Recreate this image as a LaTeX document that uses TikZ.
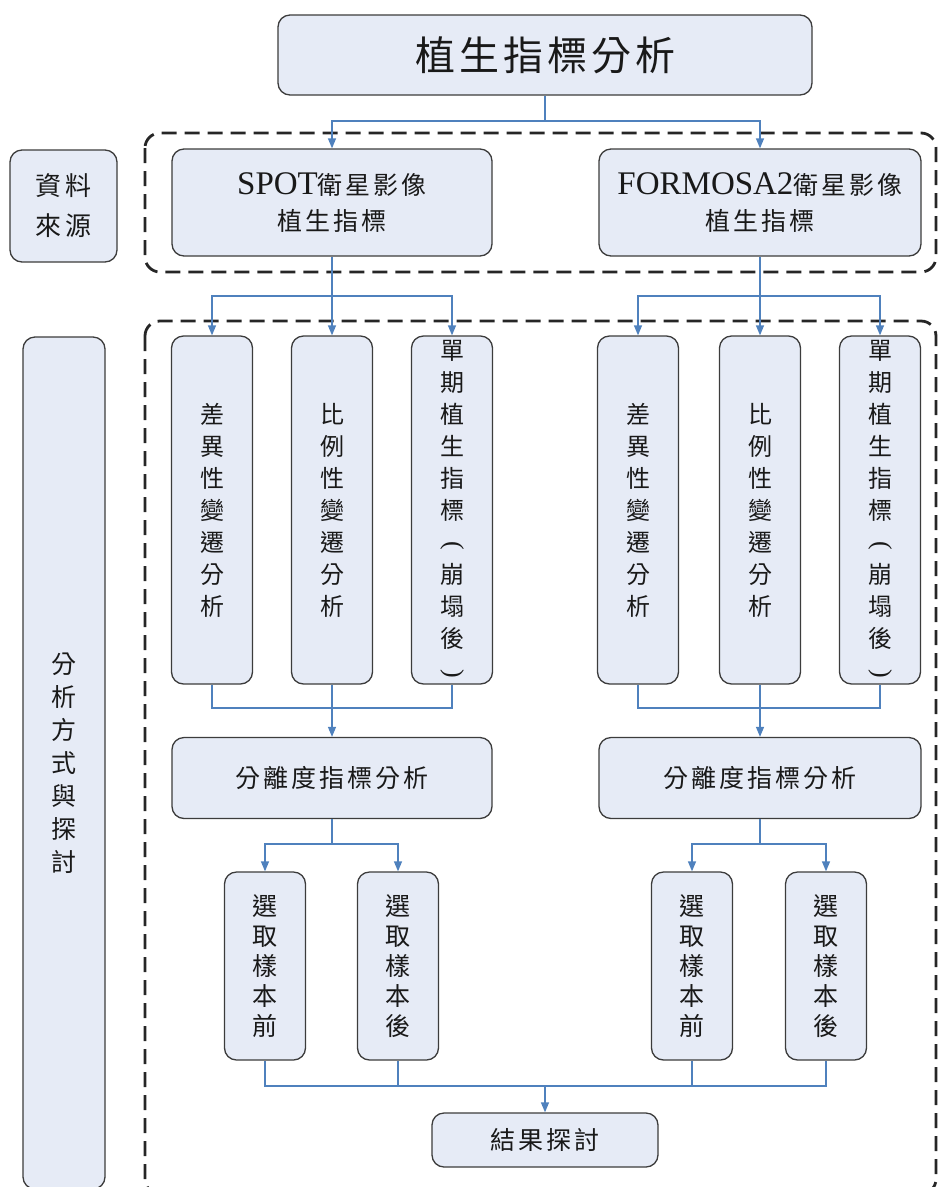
\documentclass[tikz,border=0pt]{standalone}
\usepackage{graphicx}
\usepackage{fontspec}
\setmainfont{Liberation Serif}
\newfontfamily\cjk{Noto Sans CJK TC}
\newfontfamily\cjks{Noto Sans CJK TC}[LetterSpace=12]
\usetikzlibrary{arrows.meta}
\definecolor{boxfill}{RGB}{230,235,246}
\definecolor{boxline}{RGB}{60,60,60}
\definecolor{conncol}{RGB}{79,129,189}
\definecolor{txt}{RGB}{25,25,25}
\newcommand\vlparen{\rotatebox[origin=c]{-90}{\rmfamily\fontsize{26}{26}\selectfont (}}
\newcommand\vrparen{\rotatebox[origin=c]{-90}{\rmfamily\fontsize{26}{26}\selectfont )}}
\tikzset{
  box/.style={draw=boxline, fill=boxfill, rounded corners=12pt, line width=1.3pt, inner sep=0pt, text=txt, align=center},
  vtext/.style={font=\cjk\fontsize{24}{32}\selectfont},
  conn/.style={draw=conncol, line width=1.3pt},
  arr/.style={conn, -{Triangle[length=10pt,width=8pt]}},
  dashbox/.style={draw=black!85, line width=2.8pt, dash pattern=on 15pt off 8pt, rounded corners=15pt}
}
\begin{document}
\begin{tikzpicture}[x=1pt,y=-1pt]
\useasboundingbox (0,0) rectangle (938,1187);
\clip (0,0) rectangle (938,1187);

% containers
\draw[dashbox] (145,133) rectangle (936,272);
\draw[dashbox] (145,321) rectangle (936,1194);

% junction levels
\coordinate (y1) at (0,121);
\coordinate (y2) at (0,296);
\coordinate (y3) at (0,708);
\coordinate (y4) at (0,844);
\coordinate (y5) at (0,1086);

% nodes
\node[box, minimum width=534pt, minimum height=80pt, font=\cjk\fontsize{40}{44}\selectfont\addfontfeature{LetterSpace=10}] (top) at (545,55) {植生指標分析};

\node[box, minimum width=107pt, minimum height=112pt, font=\cjks\fontsize{26}{40}\selectfont] (src) at (63.5,206) {資料\\來源};
\node[box, minimum width=82pt, minimum height=852pt, font=\cjk\fontsize{25}{33}\selectfont] (ana) at (64,763) {分\\析\\方\\式\\與\\探\\討};

\node[box, minimum width=320pt, minimum height=107pt] (spot) at (332,202.5)
  {{\fontsize{33}{36}\selectfont SPOT}{\cjks\fontsize{25}{36}\selectfont 衛星影像}\\[12pt]{\cjks\fontsize{25}{36}\selectfont 植生指標}};
\node[box, minimum width=322pt, minimum height=107pt] (formosa) at (760,202.5)
  {{\fontsize{33}{36}\selectfont FORMOSA2}{\cjks\fontsize{25}{36}\selectfont 衛星影像}\\[12pt]{\cjks\fontsize{25}{36}\selectfont 植生指標}};

\node[box, vtext, minimum width=81pt, minimum height=348pt] (a1) at (212,510) {差\\異\\性\\變\\遷\\分\\析};
\node[box, vtext, minimum width=81pt, minimum height=348pt] (a2) at (332,510) {比\\例\\性\\變\\遷\\分\\析};
\node[box, vtext, minimum width=81pt, minimum height=348pt] (a3) at (452,510) {單\\期\\植\\生\\指\\標\\\vlparen\\崩\\塌\\後\\\vrparen};
\node[box, vtext, minimum width=81pt, minimum height=348pt] (f1) at (638,510) {差\\異\\性\\變\\遷\\分\\析};
\node[box, vtext, minimum width=81pt, minimum height=348pt] (f2) at (760,510) {比\\例\\性\\變\\遷\\分\\析};
\node[box, vtext, minimum width=81pt, minimum height=348pt] (f3) at (880,510) {單\\期\\植\\生\\指\\標\\\vlparen\\崩\\塌\\後\\\vrparen};

\node[box, minimum width=320pt, minimum height=81pt, font=\cjks\fontsize{25}{30}\selectfont] (sep1) at (332,778) {分離度指標分析};
\node[box, minimum width=322pt, minimum height=81pt, font=\cjks\fontsize{25}{30}\selectfont] (sep2) at (760,778) {分離度指標分析};

\node[box, font=\cjk\fontsize{25}{30}\selectfont, minimum width=81pt, minimum height=188pt] (b1) at (265,966) {選\\取\\樣\\本\\前};
\node[box, font=\cjk\fontsize{25}{30}\selectfont, minimum width=81pt, minimum height=188pt] (b2) at (398,966) {選\\取\\樣\\本\\後};
\node[box, font=\cjk\fontsize{25}{30}\selectfont, minimum width=81pt, minimum height=188pt] (b3) at (692,966) {選\\取\\樣\\本\\前};
\node[box, font=\cjk\fontsize{25}{30}\selectfont, minimum width=81pt, minimum height=188pt] (b4) at (826,966) {選\\取\\樣\\本\\後};

\node[box, minimum width=226pt, minimum height=54pt, font=\cjks\fontsize{25}{30}\selectfont] (res) at (545,1140) {結果探討};

% connectors
\draw[conn] (top.south) -- (top.south |- y1);
\draw[arr] (top.south |- y1) -| (spot.north);
\draw[arr] (top.south |- y1) -| (formosa.north);

\draw[arr] (spot.south) -- (a2.north);
\draw[arr] (spot.south |- y2) -| (a1.north);
\draw[arr] (spot.south |- y2) -| (a3.north);
\draw[arr] (formosa.south) -- (f2.north);
\draw[arr] (formosa.south |- y2) -| (f1.north);
\draw[arr] (formosa.south |- y2) -| (f3.north);

\draw[conn] (a1.south) |- (a3.south |- y3) -- (a3.south);
\draw[arr] (a2.south) -- (sep1.north);
\draw[conn] (f1.south) |- (f3.south |- y3) -- (f3.south);
\draw[arr] (f2.south) -- (sep2.north);

\draw[conn] (sep1.south) -- (sep1.south |- y4);
\draw[arr] (sep1.south |- y4) -| (b1.north);
\draw[arr] (sep1.south |- y4) -| (b2.north);
\draw[conn] (sep2.south) -- (sep2.south |- y4);
\draw[arr] (sep2.south |- y4) -| (b3.north);
\draw[arr] (sep2.south |- y4) -| (b4.north);

\draw[conn] (b1.south) |- (b4.south |- y5) -- (b4.south);
\draw[conn] (b2.south) -- (b2.south |- y5);
\draw[conn] (b3.south) -- (b3.south |- y5);
\draw[arr] (res.north |- y5) -- (res.north);
\end{tikzpicture}
\end{document}
